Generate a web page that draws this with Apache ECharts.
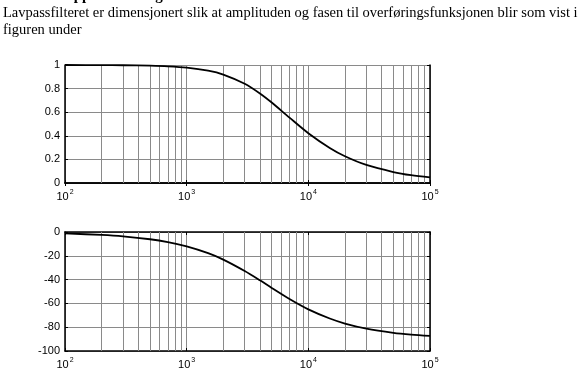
<!DOCTYPE html>
<html><head><meta charset="utf-8">
<script src="https://cdn.jsdelivr.net/npm/echarts@6/dist/echarts.min.js"></script>
<style>html,body{margin:0;padding:0;background:#fff;}#c{width:585px;height:383px;}</style>
</head><body><div id="c"></div>
<script>
// Frequencies (Hz) and values
const freqs = [100, 200, 300, 500, 700, 1000, 1500, 2000, 3000, 4000, 5000, 7000, 10000, 15000, 20000, 30000, 50000, 70000, 100000];
const amplitude = [1.0, 0.999, 0.998, 0.994, 0.989, 0.978, 0.952, 0.919, 0.841, 0.759, 0.682, 0.554, 0.422, 0.297, 0.227, 0.153, 0.093, 0.066, 0.047];
const phase = [-1.2, -2.5, -3.7, -6.1, -8.5, -12.1, -17.8, -23.2, -32.8, -40.6, -47.0, -56.3, -65.0, -72.7, -76.9, -81.2, -84.7, -86.2, -87.3];
const minorGrid = [200,300,400,500,600,700,800,900,2000,3000,4000,5000,6000,7000,8000,9000,20000,30000,40000,50000,60000,70000,80000,90000];
const headerLine0 = '13';
const headerLine0b = 'Oppsummering av fasen';
const headerLine1 = 'Lavpassfilteret er dimensjonert slik at amplituden og fasen til overføringsfunksjonen blir som vist i';
const headerLine2 = 'figuren under';

const chart = echarts.init(document.getElementById('c'), null, {renderer: 'canvas'});
const FONT = 'Liberation Sans, Arial, sans-serif';
const gridColor = '#8a8a8a';

function xAxisDef(gi) {
  return {
    type: 'log', logBase: 10, min: 100, max: 100000, gridIndex: gi,
    axisLine: {show: true, onZero: false, lineStyle: {color: '#000', width: 1.5}},
    axisTick: {show: true, inside: true, length: 3, lineStyle: {color: '#000'}},
    splitLine: {show: true, lineStyle: {color: gridColor, width: 1}},
    axisLabel: {
      show: true, margin: 6, color: '#000', fontFamily: FONT, fontSize: 11,
      formatter: v => '10{s|' + Math.round(Math.log10(v)) + '}',
      rich: {s: {fontSize: 7, verticalAlign: 'top', padding: [0,0,8,1], fontFamily: FONT, color: '#000'}}
    }
  };
}
function xTopDef(gi) {
  return {
    type: 'log', logBase: 10, min: 100, max: 100000, gridIndex: gi, position: 'top',
    axisLine: {show: true, lineStyle: {color: '#000', width: 1.5}},
    axisTick: {show: true, inside: true, length: 3, lineStyle: {color: '#000'}},
    splitLine: {show: false}, axisLabel: {show: false}
  };
}
function yAxisDef(gi, min, max, interval) {
  return {
    type: 'value', min: min, max: max, interval: interval, gridIndex: gi,
    axisLine: {show: true, onZero: false, lineStyle: {color: '#000', width: 1.5}},
    axisTick: {show: true, inside: true, length: 3, lineStyle: {color: '#000'}},
    splitLine: {show: true, lineStyle: {color: gridColor, width: 1}},
    axisLabel: {show: true, margin: 5, color: '#000', fontFamily: FONT, fontSize: 11}
  };
}
function yRightDef(gi, min, max, interval) {
  return {
    type: 'value', min: min, max: max, interval: interval, gridIndex: gi, position: 'right',
    axisLine: {show: true, onZero: false, lineStyle: {color: '#000', width: 1.5}},
    axisTick: {show: true, inside: true, length: 3, lineStyle: {color: '#000'}},
    splitLine: {show: false}, axisLabel: {show: false}
  };
}
const minorMark = {
  silent: true, symbol: ['none', 'none'], label: {show: false},
  lineStyle: {color: gridColor, width: 1, type: 'solid'},
  data: minorGrid.map(f => ({xAxis: f}))
};

chart.setOption({
  animation: false,
  backgroundColor: '#fff',
  graphic: [
    {type: 'text', left: 2, top: -11, style: {text: headerLine0, font: 'bold 15px "Liberation Serif", serif', fill: '#000'}},
    {type: 'text', left: 62, top: -11, style: {text: headerLine0b, font: 'bold 15px "Liberation Serif", serif', fill: '#000'}},
    {type: 'text', left: 3, top: 6, style: {text: headerLine1, font: '14.5px "Liberation Serif", serif', fill: '#000'}},
    {type: 'text', left: 3, top: 23, style: {text: headerLine2, font: '14.5px "Liberation Serif", serif', fill: '#000'}}
  ],
  grid: [
    {left: 65, top: 65, width: 365, height: 118, show: false},
    {left: 65, top: 232, width: 365, height: 119, show: false}
  ],
  xAxis: [xAxisDef(0), xAxisDef(1), xTopDef(0), xTopDef(1)],
  yAxis: [yAxisDef(0, 0, 1, 0.2), yAxisDef(1, -100, 0, 20), yRightDef(0, 0, 1, 0.2), yRightDef(1, -100, 0, 20)],
  series: [
    {type: 'line', xAxisIndex: 0, yAxisIndex: 0, data: freqs.map((f, i) => [f, amplitude[i]]),
     smooth: 0.3, showSymbol: false, lineStyle: {color: '#000', width: 1.8}, markLine: minorMark, z: 5},
    {type: 'line', xAxisIndex: 1, yAxisIndex: 1, data: freqs.map((f, i) => [f, phase[i]]),
     smooth: 0.3, showSymbol: false, lineStyle: {color: '#000', width: 1.8}, markLine: minorMark, z: 5}
  ]
});
</script></body></html>
